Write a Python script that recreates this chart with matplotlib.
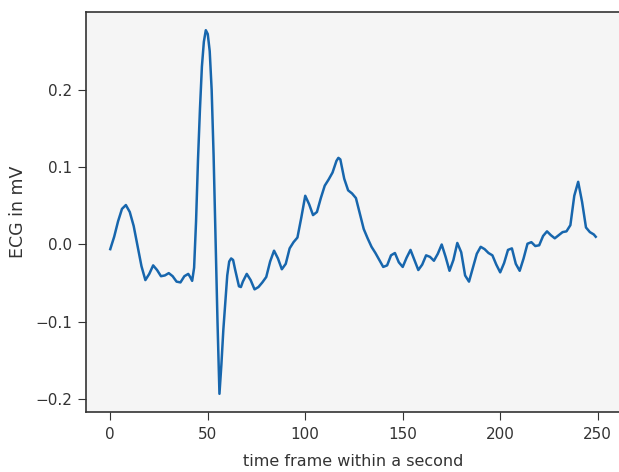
import numpy as np
import matplotlib
matplotlib.use("Agg")
import matplotlib.pyplot as plt

# sample index within the one-second window
t_samples = [0, 2, 4, 6, 8, 10, 12, 14, 16, 18, 20, 22, 24, 26, 28, 30, 32, 34,
             36, 38, 40, 41, 42, 43, 44, 45, 46, 47, 48, 49, 50, 51, 52, 53, 54,
             55, 56, 57, 58, 59, 60, 61, 62, 63, 64, 66, 67, 68, 70, 72, 74, 76,
             78, 80, 82, 84, 86, 88, 90, 92, 94, 96, 98, 100, 102, 104, 106, 108,
             110, 112, 114, 116, 117, 118, 120, 122, 124, 126, 128, 130, 132,
             134, 136, 138, 140, 142, 144, 146, 148, 150, 152, 154, 156, 158,
             160, 162, 164, 166, 168, 170, 172, 174, 176, 178, 180, 182, 184,
             186, 188, 190, 192, 194, 196, 198, 200, 202, 204, 206, 208, 210,
             212, 214, 216, 218, 220, 222, 224, 226, 228, 230, 232, 234, 236,
             238, 240, 242, 244, 246, 248, 249]

ecg_mv = [-0.006, 0.010, 0.030, 0.046, 0.051, 0.042, 0.024, -0.002, -0.028,
          -0.046, -0.038, -0.027, -0.033, -0.041, -0.040, -0.037, -0.041,
          -0.048, -0.049, -0.041, -0.038, -0.042, -0.047, -0.030, 0.030, 0.110,
          0.175, 0.230, 0.262, 0.277, 0.272, 0.250, 0.200, 0.115, 0.010,
          -0.100, -0.193, -0.155, -0.110, -0.075, -0.040, -0.022, -0.018,
          -0.020, -0.032, -0.054, -0.055, -0.048, -0.038, -0.046, -0.058,
          -0.055, -0.049, -0.042, -0.022, -0.008, -0.018, -0.032, -0.025,
          -0.005, 0.003, 0.009, 0.035, 0.063, 0.052, 0.038, 0.042, 0.060,
          0.076, 0.084, 0.093, 0.108, 0.112, 0.110, 0.085, 0.070, 0.066,
          0.060, 0.040, 0.020, 0.008, -0.003, -0.011, -0.020, -0.029, -0.027,
          -0.014, -0.011, -0.023, -0.029, -0.017, -0.007, -0.020, -0.033,
          -0.026, -0.014, -0.016, -0.021, -0.012, 0.000, -0.016, -0.034,
          -0.020, 0.002, -0.010, -0.040, -0.048, -0.030, -0.012, -0.003,
          -0.006, -0.011, -0.014, -0.026, -0.036, -0.024, -0.007, -0.005,
          -0.025, -0.034, -0.018, 0.001, 0.003, -0.002, -0.001, 0.011, 0.017,
          0.012, 0.008, 0.012, 0.016, 0.017, 0.025, 0.063, 0.081, 0.055,
          0.022, 0.016, 0.013, 0.010]

x_ticks = [0, 50, 100, 150, 200, 250]
y_ticks = [-0.2, -0.1, 0.0, 0.1, 0.2]

fig = plt.figure(figsize=(6.19, 4.72), dpi=100)
ax = fig.add_axes([86 / 619, 60 / 472, 534 / 619, 400 / 472])
ax.set_facecolor("#f5f5f5")

ax.plot(t_samples, ecg_mv, color="#1766ad", linewidth=1.8)

ax.set_xticks(x_ticks)
ax.set_yticks(y_ticks)
ax.tick_params(axis="both", length=6, color="#333333", labelcolor="#333333",
               labelsize=11)
ax.tick_params(axis="x", pad=5)
ax.tick_params(axis="y", pad=4)

ax.set_xlabel("time frame within a second", fontsize=11.5, color="#333333")
ax.set_ylabel("ECG in mV", fontsize=12.5, color="#333333")
ax.xaxis.set_label_coords(0.5, -0.106)
ax.yaxis.set_label_coords(-0.11, 0.5)

for s in ax.spines.values():
    s.set_color("#333333")
    s.set_linewidth(1.2)

fig.savefig("out.png", dpi=100)
